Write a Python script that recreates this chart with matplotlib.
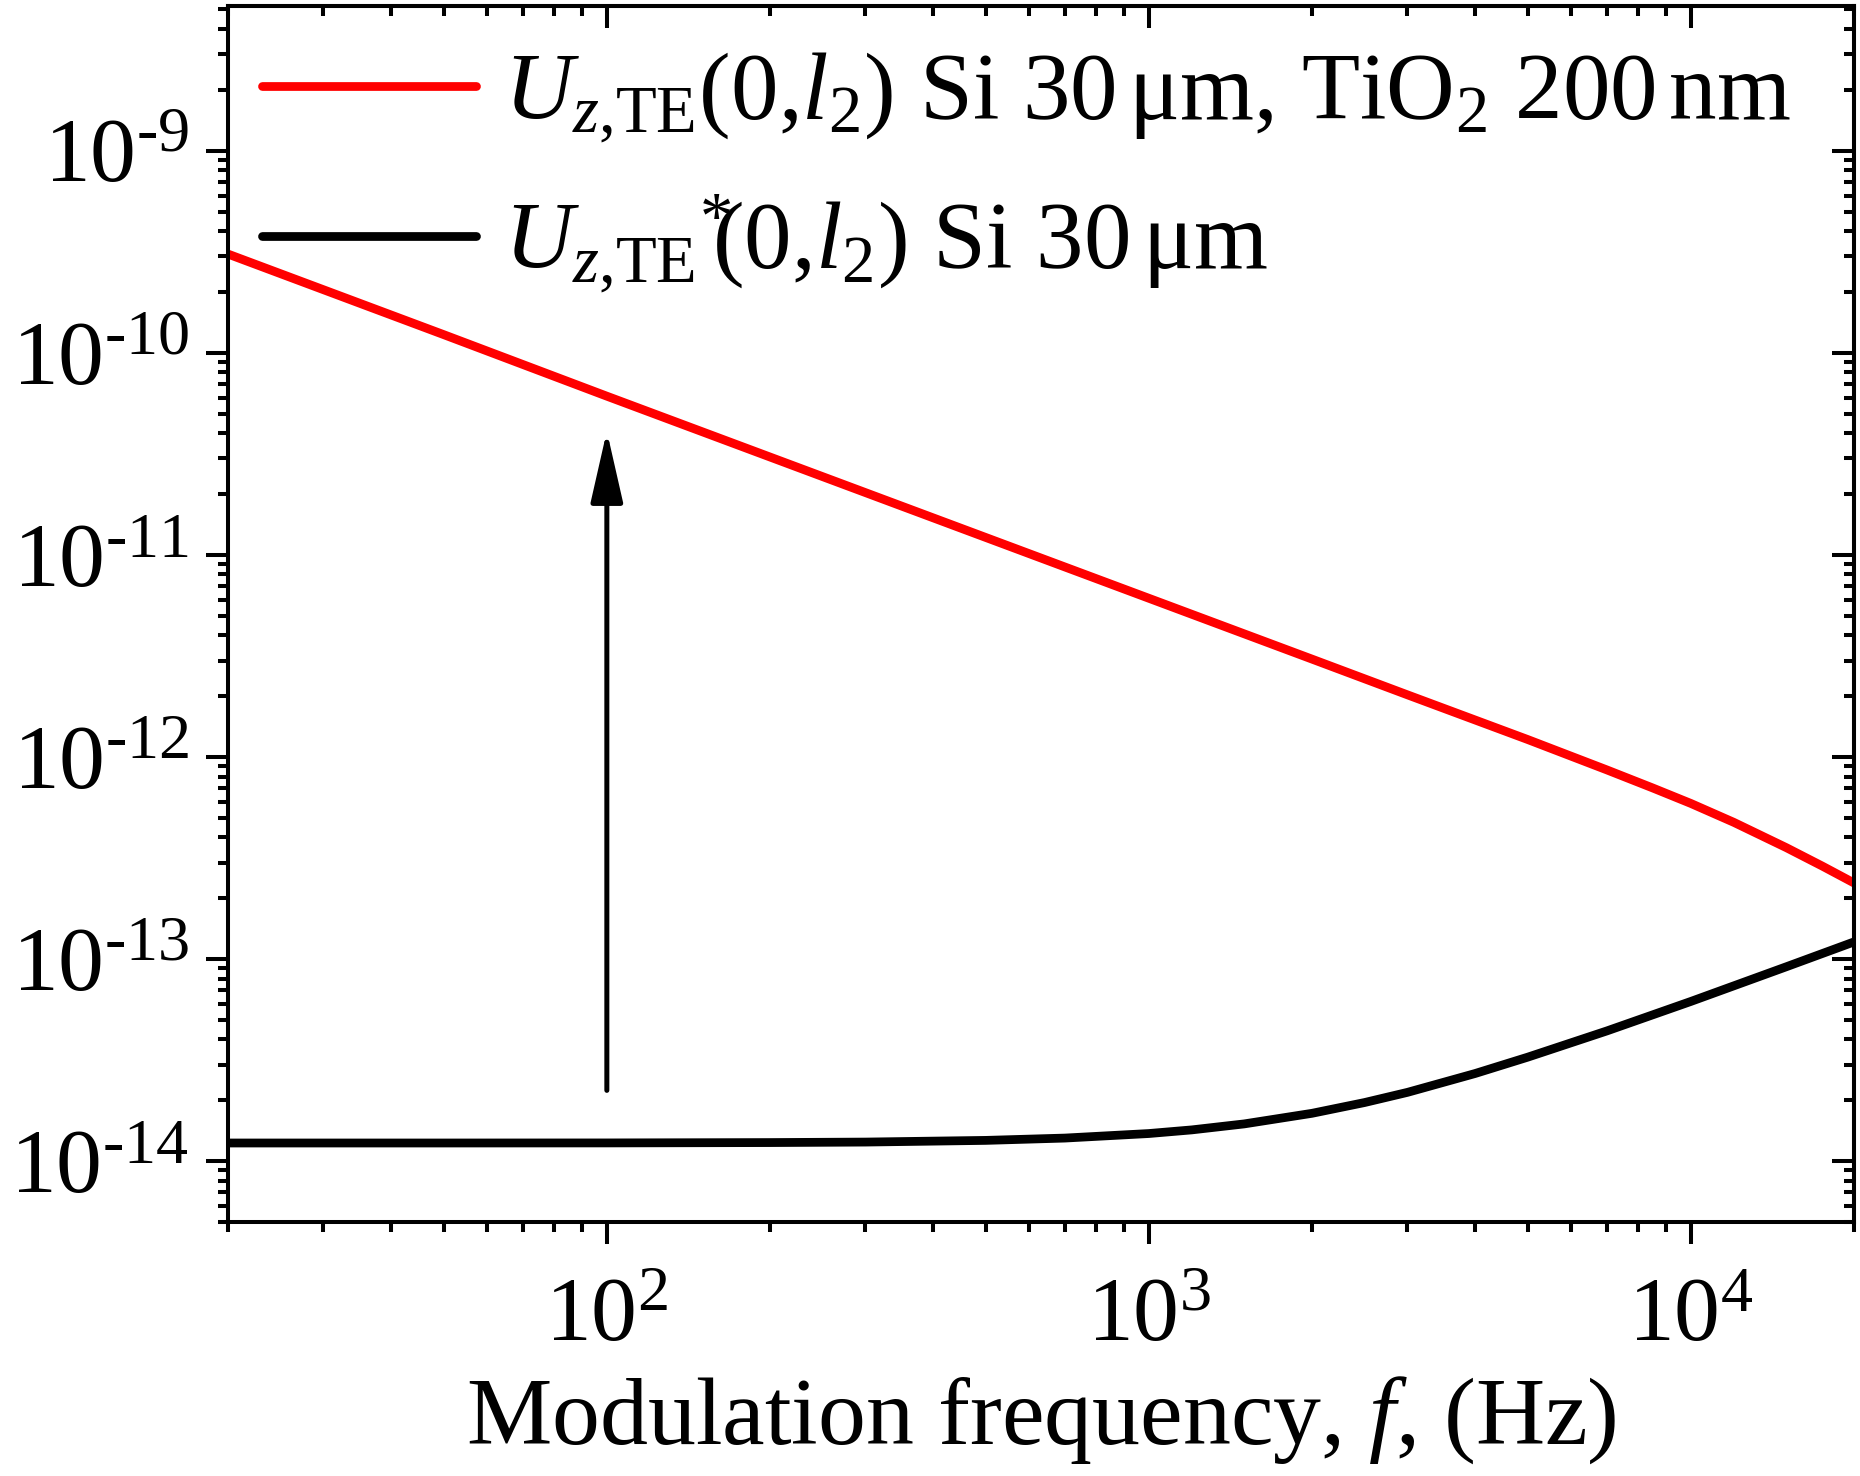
import numpy as np
import matplotlib
matplotlib.use('Agg')
import matplotlib.pyplot as plt
from matplotlib.ticker import LogLocator, FixedLocator, FuncFormatter, NullFormatter

plt.rcParams['font.family'] = ['Liberation Serif', 'DejaVu Serif']
plt.rcParams['mathtext.fontset'] = 'custom'
plt.rcParams['mathtext.rm'] = 'Liberation Serif'
plt.rcParams['mathtext.it'] = 'Liberation Serif:italic'
plt.rcParams['mathtext.bf'] = 'Liberation Serif:bold'

# red curve: with TiO2 layer
f_red = [20, 50, 100, 200, 500, 1000, 2000, 3000, 5000, 7000, 8500, 10000, 12000,
         15000, 17500, 20000]
u_red = [3.08e-10, 1.23e-10, 6.1e-11, 3.05e-11, 1.22e-11, 6.1e-12, 3.05e-12, 2.03e-12,
         1.22e-12, 8.63e-13, 7.03e-13, 5.89e-13, 4.75e-13, 3.56e-13, 2.88e-13, 2.38e-13]

# black curve: bare Si
f_blk = [20, 50, 100, 200, 300, 500, 700, 1000, 1200, 1500, 2000, 2500, 3000, 4000, 5000,
         7000, 10000, 15000, 20000]
u_blk = [1.23e-14, 1.23e-14, 1.231e-14, 1.236e-14, 1.243e-14, 1.267e-14, 1.301e-14, 1.37e-14,
         1.428e-14, 1.529e-14, 1.725e-14, 1.95e-14, 2.19e-14, 2.715e-14, 3.27e-14,
         4.41e-14, 6.17e-14, 9.16e-14, 1.216e-13]

x_major = [1e2, 1e3, 1e4]
y_major = [1e-14, 1e-13, 1e-12, 1e-11, 1e-10, 1e-9]

lab_red = r'$U_{z{,}\mathrm{TE}}(0{,}l_2)$ Si 30$\,$μm, TiO$_2$ 200$\,$nm'
lab_blk = r'$U_{z{,}\mathrm{TE}}{}^{*}\!\!(0{,}l_2)$ Si 30$\,$μm'

arrow_f = 100
arrow_from = 2.24e-14
arrow_to = 4.1e-11

fig = plt.figure(figsize=(18.6, 14.76), dpi=100)
ax = fig.add_axes([228/1860, 1 - 1222/1476, (1854-228)/1860, (1222-6)/1476])

ax.plot(f_red, u_red, color='#ff0000', lw=6.3, label=lab_red, solid_capstyle='round')
ax.plot(f_blk, u_blk, color='black', lw=6.3, label=lab_blk, solid_capstyle='round')

ax.annotate('', xy=(arrow_f, arrow_to), xytext=(arrow_f, arrow_from),
            arrowprops=dict(arrowstyle='-|>,head_length=44,head_width=10',
                            mutation_scale=1, lw=3.6, color='black',
                            shrinkA=0, shrinkB=0))

ax.set_xscale('log')
ax.set_yscale('log')
ax.set_xlim(20, 2e4)
ax.set_ylim(5e-15, 5.2e-9)

def sci(v, pos):
    n = int(round(np.log10(v)))
    if n < 0:
        return r'$\mathdefault{10^{\text{-}%d}}$' % (-n)
    return r'$\mathdefault{10^{%d}}$' % n

ax.xaxis.set_major_locator(FixedLocator(x_major))
ax.yaxis.set_major_locator(FixedLocator(y_major))
ax.xaxis.set_minor_locator(LogLocator(base=10, subs=np.arange(2, 10), numticks=20))
ax.yaxis.set_minor_locator(LogLocator(base=10, subs=np.arange(2, 10), numticks=20))
ax.xaxis.set_major_formatter(FuncFormatter(sci))
ax.yaxis.set_major_formatter(FuncFormatter(sci))
ax.xaxis.set_minor_formatter(NullFormatter())
ax.yaxis.set_minor_formatter(NullFormatter())

for s in ax.spines.values():
    s.set_linewidth(2.9)

ax.tick_params(axis='both', which='major', direction='out', length=16, width=2.9,
               labelsize=66)
ax.tick_params(axis='both', which='minor', direction='out', length=7.5, width=2.9)
ax.tick_params(axis='x', which='major', pad=24)
ax.tick_params(axis='y', which='major', pad=12)

# mirrored ticks pointing inward on top and right
axt = ax.secondary_xaxis('top')
axt.xaxis.set_major_locator(FixedLocator(x_major))
axt.xaxis.set_minor_locator(LogLocator(base=10, subs=np.arange(2, 10), numticks=20))
axt.tick_params(which='both', direction='in', width=2.9, labeltop=False)
axt.tick_params(which='major', length=16)
axt.tick_params(which='minor', length=7)
axt.xaxis.set_major_formatter(NullFormatter())
axt.xaxis.set_minor_formatter(NullFormatter())
axr = ax.secondary_yaxis('right')
axr.yaxis.set_major_locator(FixedLocator(y_major))
axr.yaxis.set_minor_locator(LogLocator(base=10, subs=np.arange(2, 10), numticks=20))
axr.tick_params(which='both', direction='in', width=2.9, labelright=False)
axr.tick_params(which='major', length=16)
axr.tick_params(which='minor', length=7)
axr.yaxis.set_major_formatter(NullFormatter())
axr.yaxis.set_minor_formatter(NullFormatter())
axt.spines['top'].set_linewidth(2.9)
axr.spines['right'].set_linewidth(2.9)

ax.set_xlabel(r'Modulation frequency, $f$, (Hz)', fontsize=69, labelpad=10)

ax.legend(loc='upper left', frameon=False, fontsize=68.5, handlelength=2.25,
          handletextpad=0.3, labelspacing=0.5, borderaxespad=0.0, borderpad=0.15,
          bbox_to_anchor=(0.012, 0.975))

fig.savefig('out.png', dpi=100)
